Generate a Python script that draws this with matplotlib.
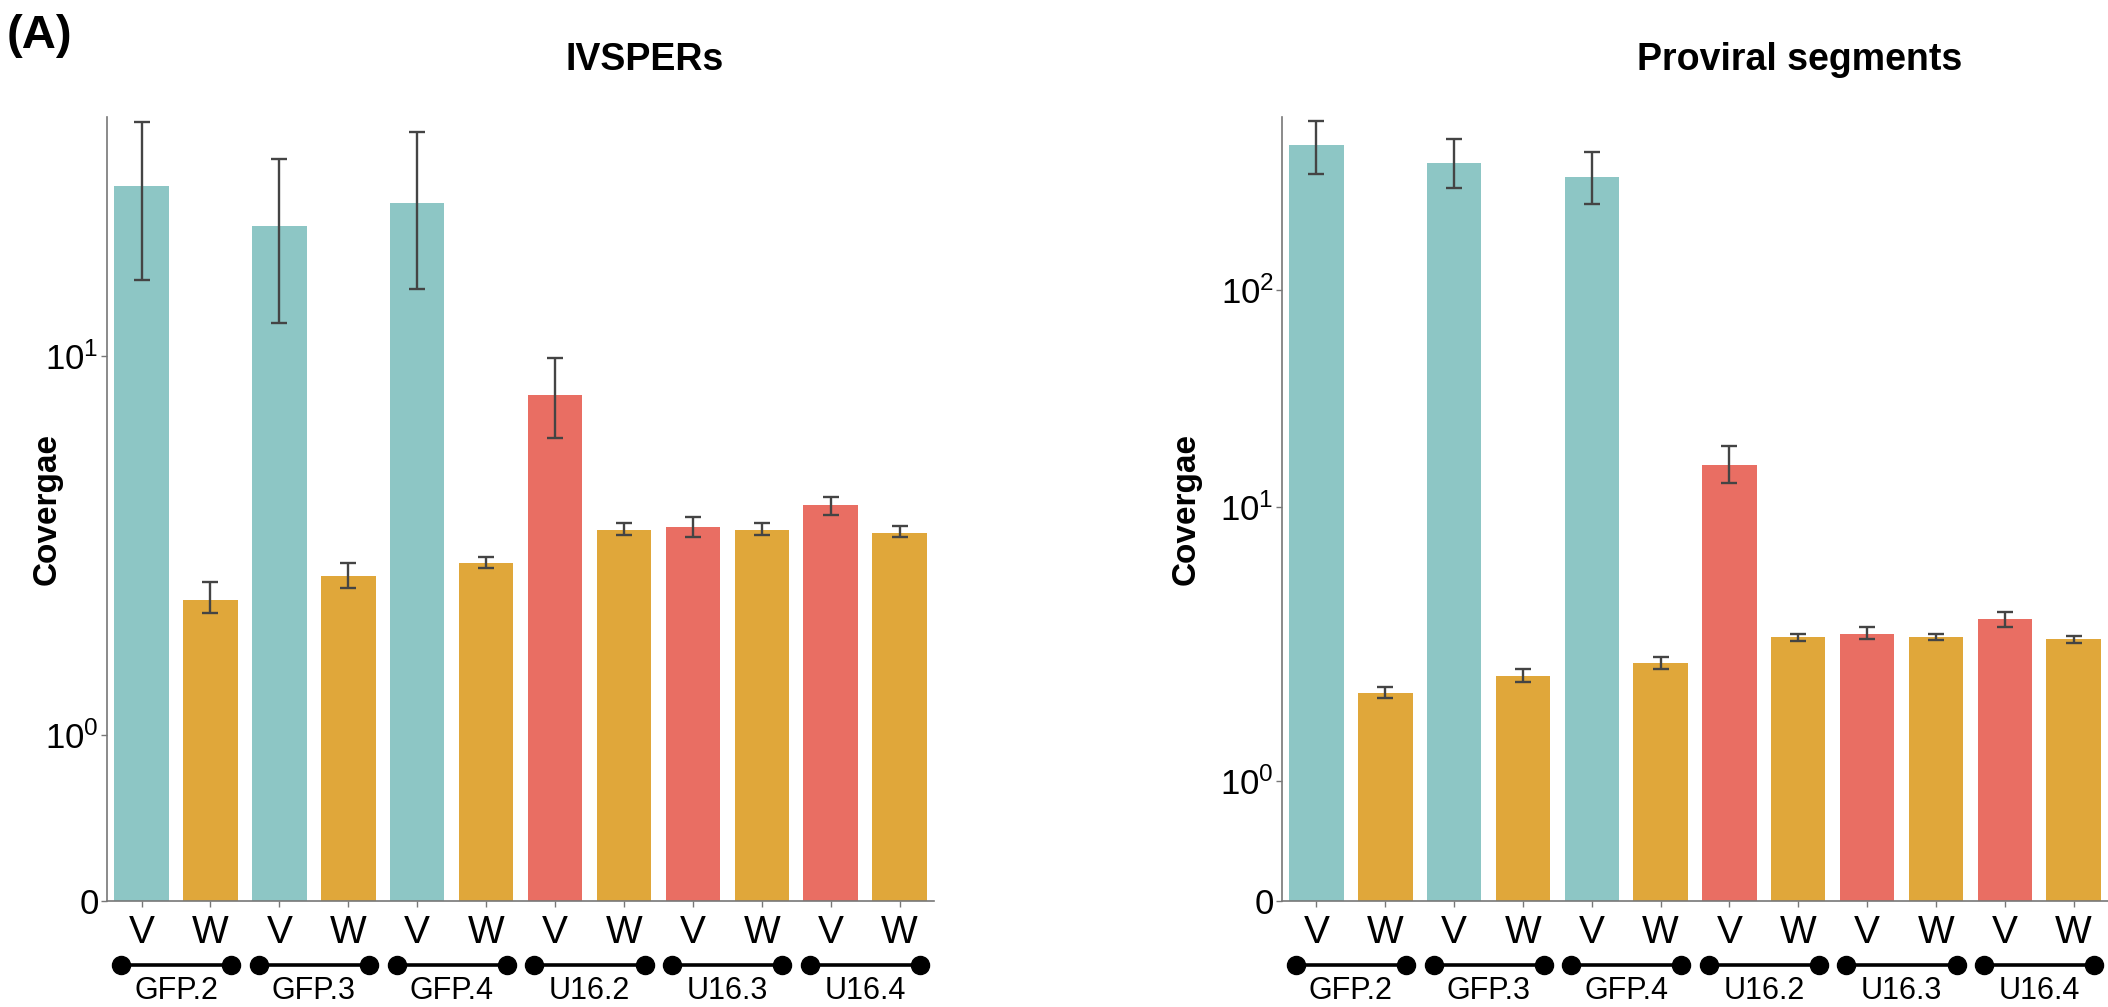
"""
IVSPERs vs proviral segments coverage, V vs W per sample.
"""

import numpy as np
import matplotlib
matplotlib.use("Agg")
import matplotlib.pyplot as plt

plt.rcParams['font.family'] = ['Liberation Sans', 'DejaVu Sans']
plt.rcParams['mathtext.fontset'] = 'custom'
plt.rcParams['mathtext.rm'] = 'Liberation Sans'
plt.rcParams['mathtext.it'] = 'Liberation Sans:italic'
plt.rcParams['mathtext.bf'] = 'Liberation Sans:bold'

# ---- data -------------------------------------------------------------
groups = ["GFP.2", "GFP.3", "GFP.4", "U16.2", "U16.3", "U16.4"]
conditions = ["V", "W"] * len(groups)

ivsper_mean = [36.9, 2.27, 27.2, 2.63, 32.4, 2.85, 7.91, 3.48, 3.55, 3.48, 4.05, 3.42]
ivsper_low = [18.0, 2.10, 12.9, 2.45, 16.8, 2.76, 6.09, 3.38, 3.34, 3.38, 3.81, 3.34]
ivsper_high = [60.4, 2.54, 45.4, 2.85, 55.9, 2.95, 9.91, 3.63, 3.77, 3.63, 4.26, 3.57]

proviral_mean = [466, 2.10, 385, 2.42, 332, 2.70, 15.7, 3.36, 3.45, 3.36, 3.91, 3.30]
proviral_low = [343, 2.01, 296, 2.30, 249, 2.57, 12.9, 3.25, 3.30, 3.28, 3.66, 3.19]
proviral_high = [601, 2.21, 497, 2.57, 432, 2.84, 19.2, 3.45, 3.66, 3.45, 4.15, 3.39]

ivsper_ticks = [0, 1, 10]
ivsper_ticklabels = ["0", "$10^0$", "$10^1$"]
proviral_ticks = [0, 1, 10, 100]
proviral_ticklabels = ["0", "$10^0$", "$10^1$", "$10^2$"]

TEAL = "#8DC6C5"
ORANGE = "#E0A73A"
RED = "#E96E63"

# y axis of the original: linear from 0 to 1, then log-like decades
SCALE_DEC = [0, 1, 2, 3]
SCALE_POS = [1.0, 3.28, 5.09, 6.90]


def fwd(v):
    v = np.asarray(v, dtype=float)
    lg = np.interp(np.log10(np.clip(v, 1, None)), SCALE_DEC, SCALE_POS)
    return np.where(v < 1, v, lg)


def inv(u):
    u = np.asarray(u, dtype=float)
    lg = 10 ** np.interp(u, SCALE_POS, SCALE_DEC)
    return np.where(u < 1, u, lg)


def bar_colors():
    cols = []
    for g in groups:
        cols.append(TEAL if g.startswith("GFP") else RED)
        cols.append(ORANGE)
    return cols


def draw_panel(ax, mean, low, high, ticks, ticklabels, ymax):
    x = np.arange(len(mean))
    mean = np.array(mean)
    err = [mean - np.array(low), np.array(high) - mean]

    ax.set_yscale("function", functions=(fwd, inv))
    ax.bar(x, mean, width=0.79, color=bar_colors(), zorder=2)
    ax.errorbar(x, mean, yerr=err, fmt="none", ecolor="#444444",
                elinewidth=1.7, capsize=6, capthick=1.7, zorder=3)

    ax.set_xlim(-0.5, len(mean) - 0.5)
    ax.set_ylim(0, ymax)
    ax.set_yticks(ticks)
    ax.set_yticklabels(ticklabels)
    ax.yaxis.set_minor_locator(matplotlib.ticker.NullLocator())
    ax.set_xticks(x)
    ax.set_xticklabels(conditions)

    for s in ["top", "right"]:
        ax.spines[s].set_visible(False)
    for s in ["left", "bottom"]:
        ax.spines[s].set_color("#777777")
        ax.spines[s].set_linewidth(1.2)

    ax.tick_params(axis="x", length=4, width=1, color="#777777", pad=6,
                   labelsize=28)
    ax.tick_params(axis="y", length=4, width=1, color="#777777", pad=2,
                   labelsize=25)

    ax.set_ylabel("Covergae", fontsize=24, fontweight="bold")

    # sample brackets under the V/W labels
    trans = ax.get_xaxis_transform()
    for i, g in enumerate(groups):
        x0 = 2 * i
        ax.plot([x0 - 0.3, x0 + 1.3], [-0.082, -0.082], transform=trans,
                clip_on=False, color="black", lw=2.6, marker="o", ms=13)
        ax.text(x0 + 0.5, -0.115, g, transform=trans, ha="center",
                va="center", fontsize=22)


fig = plt.figure(figsize=(21.08, 10.07), dpi=100)
ax1 = fig.add_axes([0.0508, 0.1053, 0.3923, 0.7786])
ax2 = fig.add_axes([0.6082, 0.1053, 0.3918, 0.7786])

draw_panel(ax1, ivsper_mean, ivsper_low, ivsper_high,
           ivsper_ticks, ivsper_ticklabels, 62.7)
draw_panel(ax2, proviral_mean, proviral_low, proviral_high,
           proviral_ticks, proviral_ticklabels, 627)

ax1.yaxis.set_label_coords(-0.054, 0.5)
ax2.yaxis.set_label_coords(-0.097, 0.5)

fig.text(645 / 2108, 1 - 60 / 1007, "IVSPERs", ha="center", va="center",
         fontsize=27, fontweight="bold")
fig.text(1800 / 2108, 1 - 60 / 1007, "Proviral segments", ha="center",
         va="center", fontsize=27, fontweight="bold")
fig.text(0.003, 1 - 36 / 1007, "(A)", ha="left", va="center", fontsize=34,
         fontweight="bold")

fig.savefig("out.png", dpi=100)
